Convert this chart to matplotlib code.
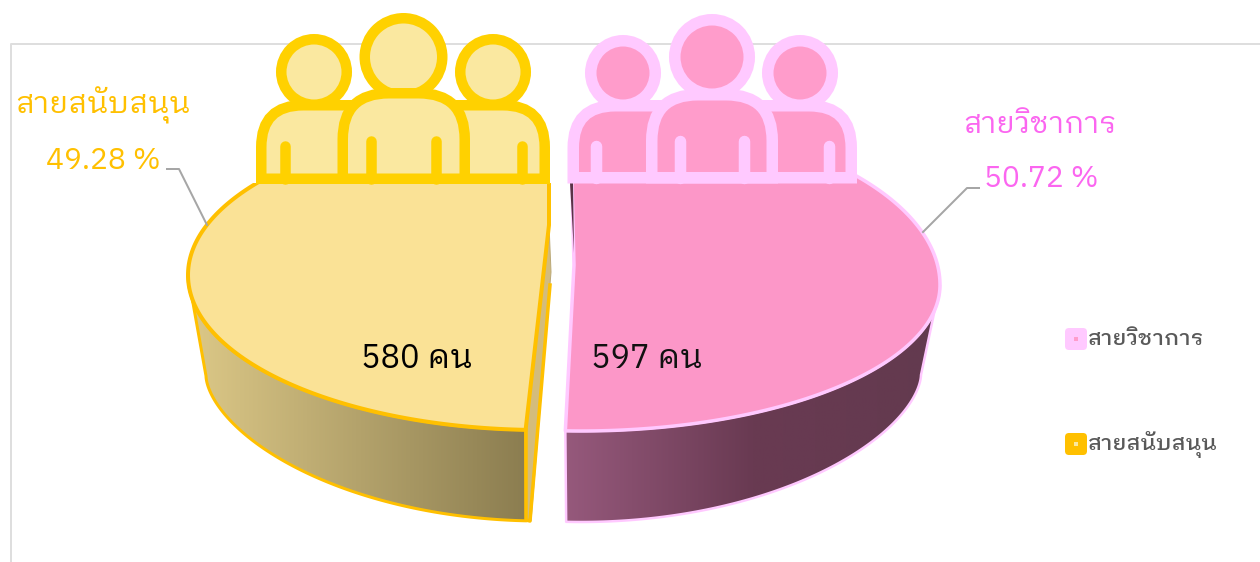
import numpy as np
import matplotlib
matplotlib.use("Agg")
import matplotlib.pyplot as plt
from matplotlib.colors import LinearSegmentedColormap
from matplotlib.patches import Ellipse, FancyBboxPatch, Polygon, Rectangle
from matplotlib.path import Path
from matplotlib.patches import PathPatch

categorias = ["สายวิชาการ", "สายสนับสนุน"]
pessoas = [597, 580]
percentuais = [50.72, 49.28]

AMARELO = "#FFC000"
AMARELO_TOPO = "#FAE296"
AMARELO_ICONE = "#FFD100"
AMARELO_ICONE_FUNDO = "#FAE8A0"
ROSA = "#FFC9FF"
ROSA_TOPO = "#FC97C8"
ROSA_ICONE_FUNDO = "#FF9CCB"
ROSA_TEXTO = "#FB66F0"

FONTE = ["IBM Plex Sans Thai Looped", "IBM Plex Sans Thai", "DejaVu Sans"]
plt.rcParams["font.family"] = FONTE
PX = 0.72  # 1 px in points at dpi 100

fig = plt.figure(figsize=(12.6, 5.62), dpi=100)
ax = fig.add_axes([0, 0, 1, 1])
ax.set_xlim(0, 1260)
ax.set_ylim(562, 0)
ax.axis("off")


def arco(cx, cy, rx, ry_cima, ry_baixo, a0, a1, pot=1.0):
    t = np.radians(np.linspace(a0, a1, 160))
    s = np.sin(t)
    ry = np.where(s > 0, ry_cima, ry_baixo)
    return np.column_stack([cx + rx * np.cos(t), cy - ry * np.sign(s) * np.abs(s) ** pot])


def lateral(pontos, cores, x0, x1, y0, y1, borda, w):
    p = Polygon(pontos, closed=True, facecolor="none", edgecolor="none", zorder=1)
    ax.add_patch(p)
    cm = LinearSegmentedColormap.from_list("lat", cores)
    im = ax.imshow(np.linspace(0, 1, 256)[None, :], cmap=cm, extent=(x0, x1, y1, y0),
                   aspect="auto", zorder=1)
    im.set_clip_path(p)
    ax.add_patch(Polygon(pontos, closed=True, facecolor="none", edgecolor=borda,
                         lw=w * PX, joinstyle="round", zorder=2))


def corpo(x0, x1, topo, base, r, fundo, traco, w):
    x0, x1, topo, base = x0 + w / 2, x1 - w / 2, topo + w / 2, base - w / 2
    verts = [(x0, base), (x0, topo + r), (x0, topo), (x0 + r, topo),
             (x1 - r, topo), (x1, topo), (x1, topo + r), (x1, base), (x0, base)]
    cod = [Path.MOVETO, Path.LINETO, Path.CURVE3, Path.CURVE3, Path.LINETO,
           Path.CURVE3, Path.CURVE3, Path.LINETO, Path.CLOSEPOLY]
    ax.add_patch(PathPatch(Path(verts, cod), facecolor=fundo, edgecolor=traco,
                           lw=w * PX, joinstyle="miter", zorder=6))


def cabeca(cx, cy, r, fundo, traco, w):
    ax.add_patch(Ellipse((cx, cy), 2 * r - w, 2 * r - w, facecolor=fundo, edgecolor=traco,
                         lw=w * PX, zorder=6))


def icone(corpos, cabecas, bracos, base, y_braco, fundo, traco, w):
    for x0, x1, topo, r in corpos[:2]:
        corpo(x0, x1, topo, base, r, fundo, traco, w)
    for cx, cy, r in cabecas:
        cabeca(cx, cy, r, fundo, traco, w)
    x0, x1, topo, r = corpos[2]
    corpo(x0, x1, topo, base, r, fundo, traco, w)
    for x, y in zip(bracos, y_braco):
        ax.plot([x, x], [y, base - w / 2], color=traco, lw=w * PX, solid_capstyle="round", zorder=7)


# moldura
ax.plot([11, 11, 1260], [562, 44, 44], color="#DEDEDE", lw=2 * PX, zorder=0)

# fatias: angulos vindos dos valores
inicio = 90.1
fim_direita = inicio - 360 * pessoas[0] / sum(pessoas)
fim_esquerda = fim_direita - 360 * pessoas[1] / sum(pessoas)

# laterais
ext_d = arco(581, 285, 359, 170, 146, 0, fim_direita)
int_d = arco(581, 375, 340, 147, 147, fim_direita, 0, pot=1.2)
lateral(np.vstack([ext_d, int_d]), ["#96597C", "#693A52", "#633A4F"], 565, 940, 280, 525, ROSA, 2.5)

ext_e = arco(541, 275, 353, 155, 155, fim_direita, -180)
int_e = arco(541, 376, 335, 145, 145, -180, fim_direita, pot=1.2)
lateral(np.vstack([ext_e, int_e]), ["#DCC887", "#8B7D50"], 190, 527, 270, 525, AMARELO, 3)

recorte_e = Rectangle((0, 183), 1260, 400, transform=ax.transData)
recorte_d = Rectangle((0, 170), 1260, 400, transform=ax.transData)

# face de corte amarela
ax.add_patch(Polygon([(526, 430), (549, 225), (551, 272), (531, 521), (526, 519)],
                     facecolor="#D3BC7C", edgecolor="#BBA979", lw=1 * PX, zorder=2))
ax.plot([526, 526, 530, 550], [430, 520, 521, 285], color=AMARELO, lw=3.5 * PX, zorder=2)

# topos
topo_e = np.vstack([[(549, 225), (549, 120)], arco(541, 275, 353, 155, 155, fim_esquerda, fim_direita)])
pe = Polygon(topo_e, closed=True, facecolor=AMARELO_TOPO, edgecolor=AMARELO, lw=4 * PX,
             joinstyle="round", zorder=3)
ax.add_patch(pe)
pe.set_clip_path(recorte_e)

topo_d = np.vstack([[(574, 265), (572, 183), (572, 120)], arco(581, 285, 359, 170, 146, inicio, fim_direita)])
pd = Polygon(topo_d, closed=True, facecolor=ROSA_TOPO, edgecolor=ROSA, lw=3.5 * PX,
             joinstyle="round", zorder=3)
ax.add_patch(pd)
pd.set_clip_path(recorte_d)

# face de corte rosa
ax.add_patch(Polygon([(570, 183), (573, 183), (574, 253)], facecolor="#5A3346",
                     edgecolor="none", zorder=4))

# icones de pessoas
icone([(256, 400, 100, 42), (400, 550, 100, 42), (337.5, 470, 88, 46)],
      [(314, 72, 38), (493, 72, 38), (403.5, 57, 44)],
      [285, 371, 436, 522], 184, [146, 141, 141, 146],
      AMARELO_ICONE_FUNDO, AMARELO_ICONE, 10.5)
icone([(567.5, 710, 100, 42), (710, 857, 100, 42), (646, 778, 89, 46)],
      [(623, 73, 38), (800, 73, 38), (712, 57, 43)],
      [595.5, 680, 744, 829], 183.5, [146, 141, 141, 146],
      ROSA_ICONE_FUNDO, ROSA, 11.5)

# linhas guia
ax.plot([167, 179, 207], [169, 169, 225], color="#A6A6A6", lw=2 * PX, zorder=8)
ax.plot([979, 967, 923], [188, 188, 232], color="#A6A6A6", lw=2 * PX, zorder=8)

# rotulos
ax.text(103, 105, categorias[1], color=AMARELO, fontsize=22, fontweight="regular",
        ha="center", va="center", zorder=9)
ax.text(103, 161, f"{percentuais[1]:.2f} %", color=AMARELO, fontsize=21.5, fontweight="regular",
        ha="center", va="center", zorder=9)
ax.text(1040, 125, categorias[0], color=ROSA_TEXTO, fontsize=21.5, fontweight="regular",
        ha="center", va="center", zorder=9)
ax.text(1041, 179, f"{percentuais[0]:.2f} %", color=ROSA_TEXTO, fontsize=21.5, fontweight="regular",
        ha="center", va="center", zorder=9)
ax.text(417, 359, f"{pessoas[1]} คน", color="black", fontsize=23.5, ha="center", va="center", zorder=9)
ax.text(647, 359, f"{pessoas[0]} คน", color="#111111", fontsize=23.5, ha="center", va="center", zorder=9)

# legenda
for y, cor, miolo, nome in [(339, ROSA, ROSA_ICONE_FUNDO, categorias[0]),
                            (444, AMARELO, AMARELO_ICONE_FUNDO, categorias[1])]:
    ax.add_patch(FancyBboxPatch((1068, y - 8), 16, 16, boxstyle="round,pad=3,rounding_size=4",
                                facecolor=cor, edgecolor="none", zorder=5))
    ax.add_patch(Rectangle((1074, y - 2), 4, 4, facecolor=miolo, edgecolor="none", zorder=6))
    ax.text(1088, y, nome, color="#595959", fontsize=16, fontweight="medium",
            ha="left", va="center", zorder=9)

ax.set_xlim(0, 1260)
ax.set_ylim(562, 0)
fig.savefig("out.png", dpi=100, facecolor="white")
